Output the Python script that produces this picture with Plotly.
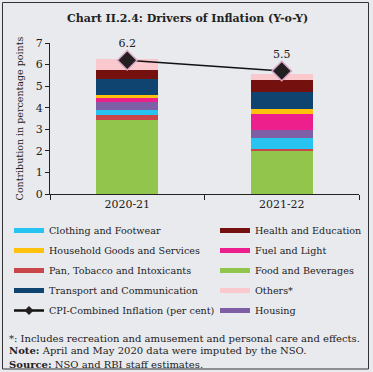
import plotly.graph_objects as go

years = ["2020-21", "2021-22"]

food = [3.42, 2.01]
pan = [0.25, 0.09]
clothing = [0.23, 0.50]
housing = [0.36, 0.37]
fuel = [0.18, 0.73]
household = [0.13, 0.22]
transport = [0.76, 0.79]
health = [0.43, 0.59]
others = [0.51, 0.27]

cpi = [6.2, 5.7]
cpi_labels = ["6.2", "5.5"]

# (name, values, colour, legend column, legend rank)
series = [
    ("Food and Beverages", food, "#92C54B", "legend2", 3),
    ("Pan, Tobacco and Intoxicants", pan, "#C9474B", "legend", 3),
    ("Clothing and Footwear", clothing, "#27C4F1", "legend", 1),
    ("Housing", housing, "#7E5EA5", "legend2", 5),
    ("Fuel and Light", fuel, "#EC1F8D", "legend2", 2),
    ("Household Goods and Services", household, "#FEC20E", "legend", 2),
    ("Transport and Communication", transport, "#0F4470", "legend", 4),
    ("Health and Education", health, "#74110F", "legend2", 1),
    ("Others*", others, "#F9C9CD", "legend2", 4),
]

FONT = "DejaVu Serif"
BG = "#E9EAEE"
TXT = "#222"

fig = go.Figure()
for name, vals, color, lg, rank in series:
    fig.add_trace(go.Bar(x=years, y=vals, name=name, marker=dict(color=color, line=dict(width=0)),
                         width=0.4, showlegend=False, hoverinfo="skip"))

fig.add_trace(go.Scatter(x=years, y=cpi, mode="lines+markers+text", text=cpi_labels,
                         textposition="top center", textfont=dict(family=FONT, size=11, color=TXT),
                         line=dict(color="#111", width=1.5), cliponaxis=False,
                         marker=dict(symbol="diamond", size=15, color="#231F20",
                                     line=dict(color="#D8A4C6", width=1.5)),
                         showlegend=False))

# legend entries
for name, vals, color, lg, rank in series:
    fig.add_trace(go.Scatter(x=[None], y=[None], mode="lines", name=name, legend=lg,
                             legendgroup=name, line=dict(color=color, width=5), legendrank=rank))
fig.add_trace(go.Scatter(x=[None], y=[None], mode="lines+markers", name="CPI-Combined Inflation (per cent)",
                         legend="legend", legendgroup="cpi", legendrank=5,
                         line=dict(color="#111", width=2.5),
                         marker=dict(symbol="diamond", size=7, color="#231F20")))

leg_common = dict(orientation="v", yanchor="top", xanchor="left", bgcolor="rgba(0,0,0,0)",
                  font=dict(family=FONT, size=9.6, color=TXT), itemwidth=30, tracegroupgap=1,
                  traceorder="grouped")
leg_top = (194 - 216) / 151

fig.update_layout(
    width=373, height=372,
    margin=dict(l=50, r=14, t=43, b=178, autoexpand=False),
    paper_bgcolor=BG, plot_bgcolor=BG,
    barmode="stack",
    font=dict(family=FONT, size=11, color=TXT),
    showlegend=True,
    legend=dict(x=(9 - 50) / 309, y=leg_top, **leg_common),
    legend2=dict(x=(215 - 50) / 309, y=leg_top, **leg_common),
    xaxis=dict(showline=True, linecolor=TXT, linewidth=1, ticks="outside", tickson="boundaries",
               ticklen=5, tickcolor=TXT, showgrid=False, zeroline=False,
               tickfont=dict(family=FONT, size=11)),
    yaxis=dict(range=[0, 7], dtick=1, showline=True, linecolor=TXT, linewidth=1, ticks="outside",
               ticklen=4, tickcolor=TXT, showgrid=False, zeroline=False,
               title=dict(text="Contribution in percentage points", font=dict(family=FONT, size=9.5), standoff=10),
               tickfont=dict(family=FONT, size=11)),
)

fig.add_annotation(text="<b>Chart II.2.4: Drivers of Inflation (Y-o-Y)</b>", xref="paper", yref="paper",
                   x=(187 - 50) / 309, y=(194 - 18) / 151, xanchor="center", yanchor="middle",
                   showarrow=False, font=dict(family=FONT, size=11, color=TXT))

notes = [
    "*: Includes recreation and amusement and personal care and effects.",
    "<b>Note:</b> April and May 2020 data were imputed by the NSO.",
    "<b>Source:</b> NSO and RBI staff estimates.",
]
for i, t in enumerate(notes):
    fig.add_annotation(text=t, xref="paper", yref="paper", x=(7 - 50) / 309, y=(194 - (338 + 13 * i)) / 151,
                       xanchor="left", yanchor="middle", showarrow=False,
                       font=dict(family=FONT, size=10, color=TXT))

fig.add_shape(type="rect", xref="paper", yref="paper",
              x0=(2.5 - 50) / 309, x1=(368.5 - 50) / 309, y0=(194 - 369) / 151, y1=(194 - 2.5) / 151,
              line=dict(color="#333", width=1), fillcolor="rgba(0,0,0,0)", layer="below")

fig.write_html("out.html", config={"displayModeBar": False},
               post_script="document.body.style.margin='0';")
